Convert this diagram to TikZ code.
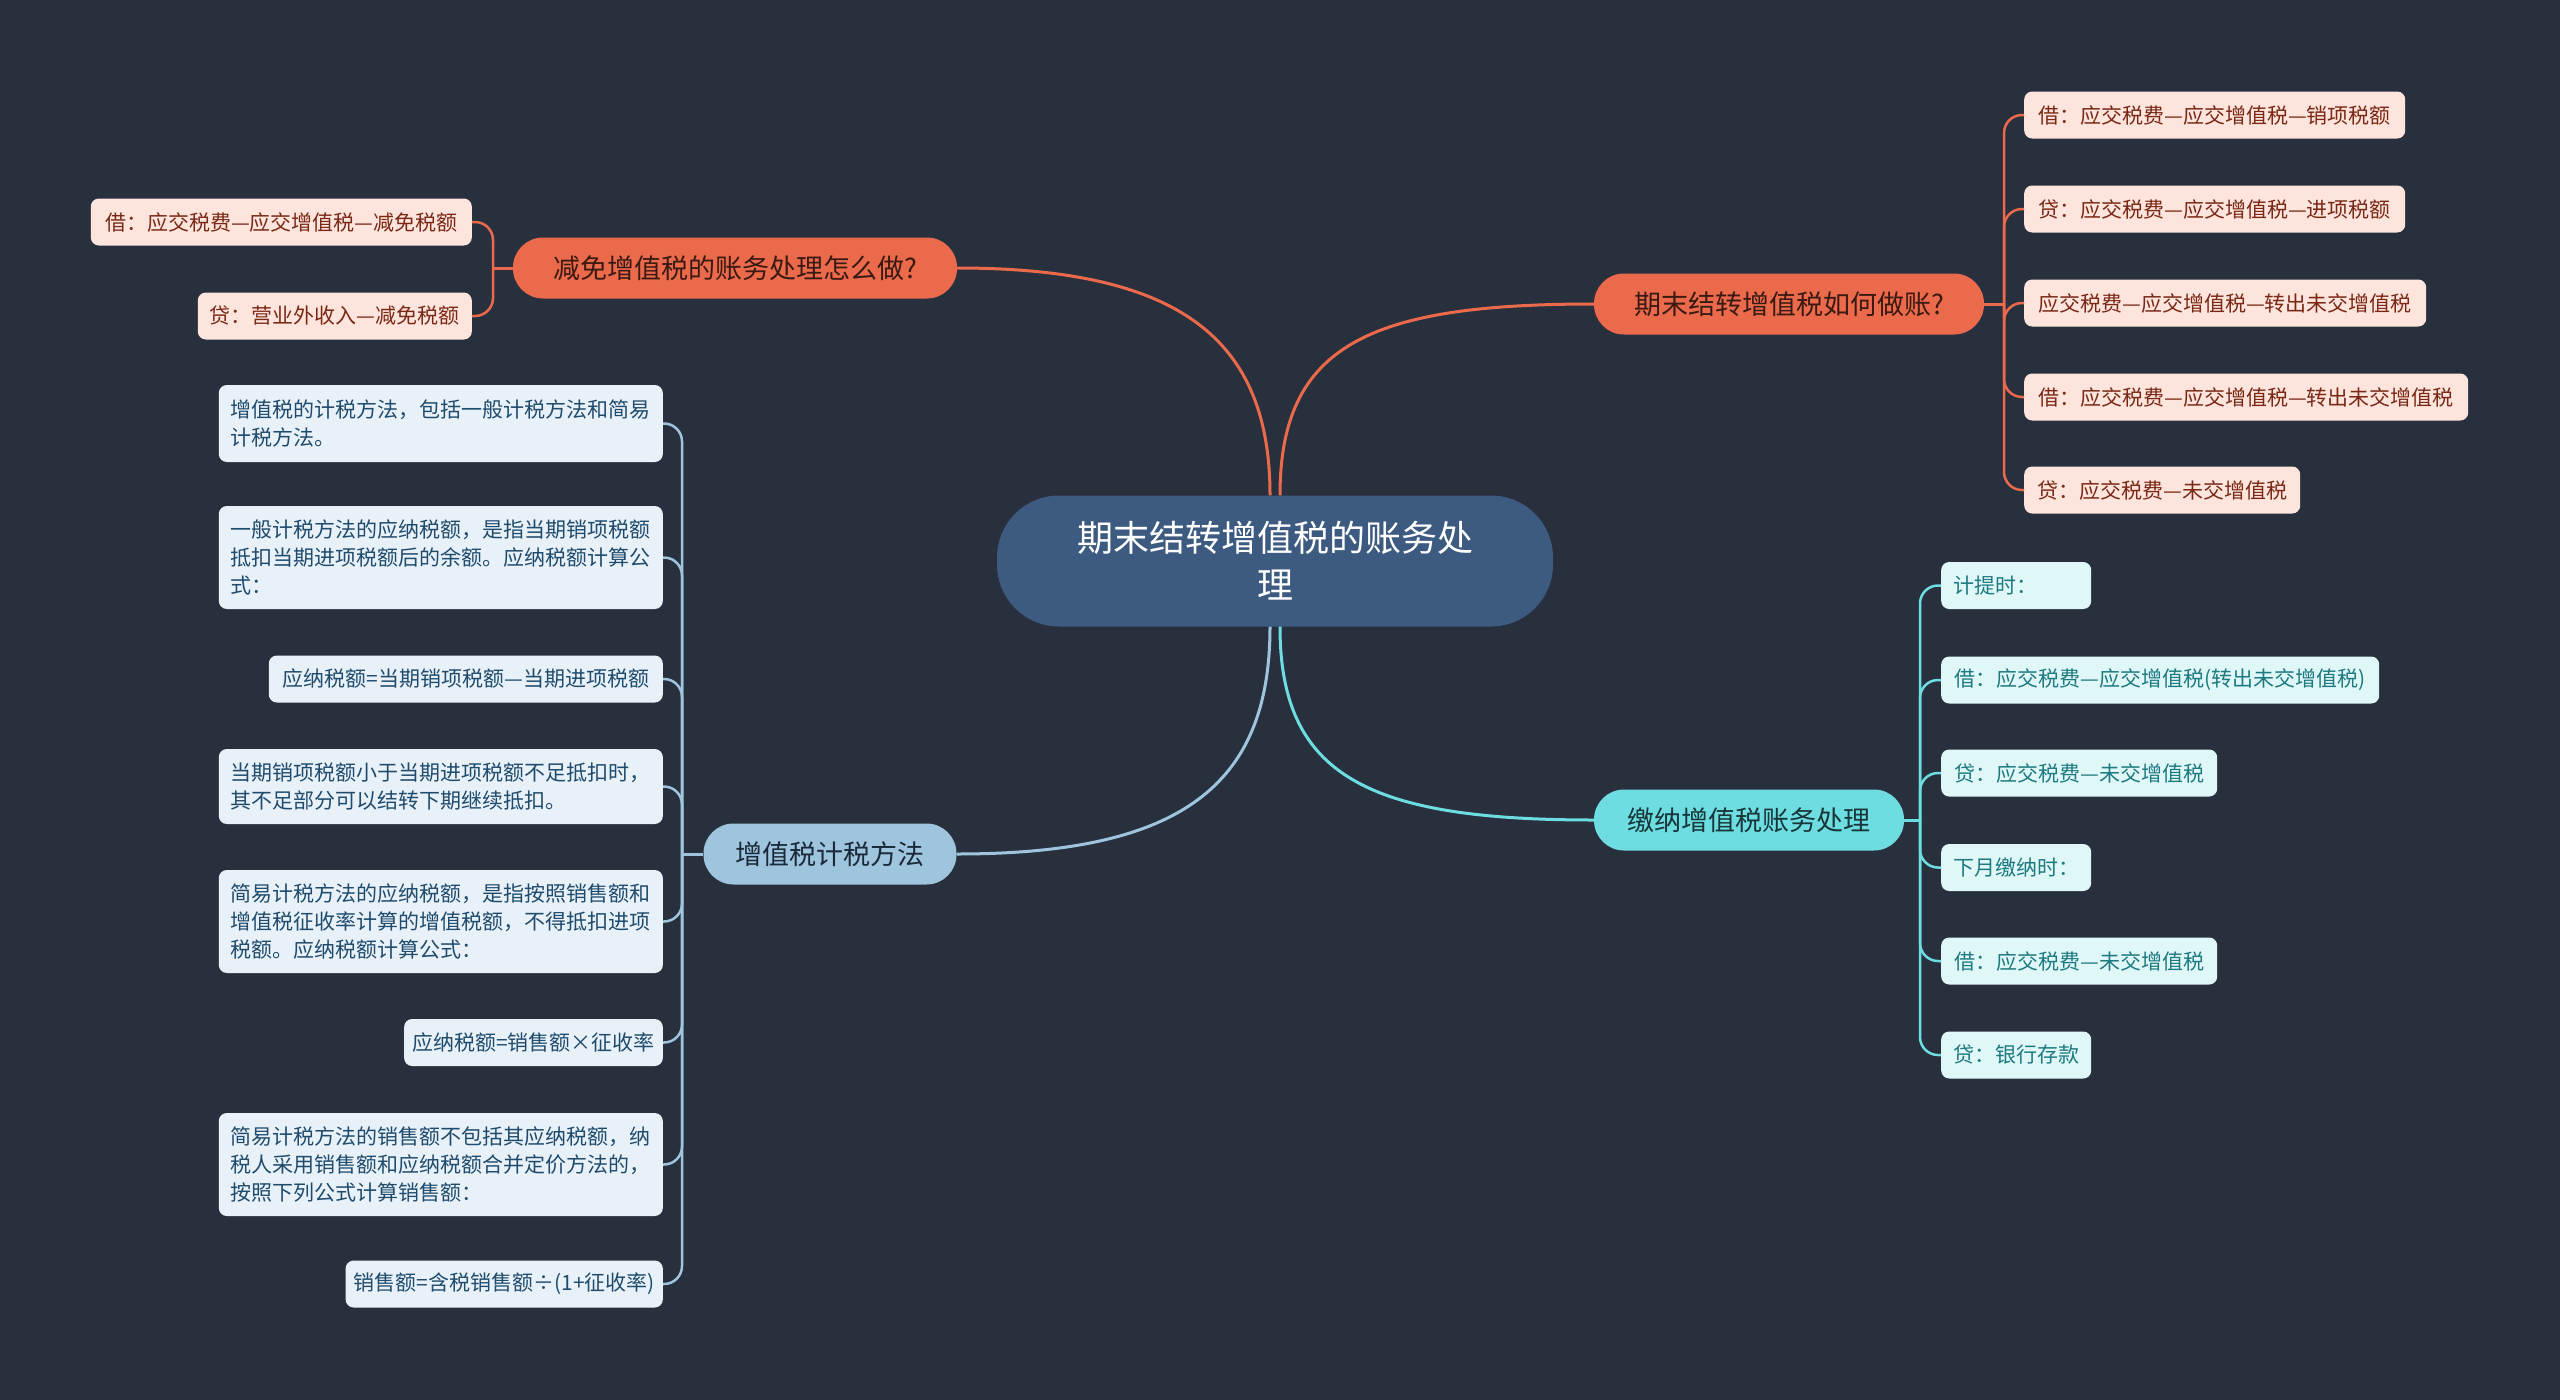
\documentclass[tikz,border=0pt]{standalone}
\usepackage{fontspec}
\setmainfont{Noto Sans CJK SC}
\definecolor{bg}{HTML}{28303E}
\definecolor{rootfill}{HTML}{3D5A80}
\definecolor{ofill}{HTML}{EB6A4B}
\definecolor{otext}{HTML}{3A1A12}
\definecolor{oleaf}{HTML}{FDE5DD}
\definecolor{oleaftext}{HTML}{7A2815}
\definecolor{bfill}{HTML}{9EC4DE}
\definecolor{btext}{HTML}{1B2A3A}
\definecolor{bleaf}{HTML}{E8F1F8}
\definecolor{bleaftext}{HTML}{1F4B6D}
\definecolor{cfill}{HTML}{6DDDE2}
\definecolor{ctext}{HTML}{163638}
\definecolor{cleaf}{HTML}{E0F7F8}
\definecolor{cleaftext}{HTML}{1C7A80}
\tikzset{
  rootbox/.style={fill=rootfill, text=white, rounded corners=62pt, inner sep=0pt,
    minimum width=556pt, minimum height=131pt, align=center,
    font=\fontsize{36pt}{47pt}\selectfont},
  branchbox/.style={rounded corners=30pt, inner sep=0pt, minimum height=61pt,
    font=\fontsize{27pt}{32pt}\selectfont},
  leafbox/.style={rounded corners=8pt, inner xsep=11pt, inner ysep=0pt, minimum height=47pt,
    font=\fontsize{21pt}{28pt}\selectfont},
  oleafbox/.style={leafbox, fill=oleaf, text=oleaftext},
  bleafbox/.style={leafbox, fill=bleaf, text=bleaftext},
  bparabox/.style={bleafbox, inner xsep=12pt, text width=420pt, align=left},
  cleafbox/.style={leafbox, fill=cleaf, text=cleaftext},
  oline/.style={draw=ofill, line width=3pt},
  bline/.style={draw=bfill, line width=3pt},
  cline/.style={draw=cfill, line width=3pt},
  olinks/.style={draw=ofill, line width=2.5pt, rounded corners=18pt},
  blinks/.style={draw=bfill, line width=2.5pt, rounded corners=18pt},
  clinks/.style={draw=cfill, line width=2.5pt, rounded corners=18pt},
}
\begin{document}
\begin{tikzpicture}[x=1pt,y=1pt]
\fill[bg] (0,0) rectangle (2560,-1400);
\useasboundingbox (0,0) rectangle (2560,-1400);

% root and branches
\node[rootbox] (root) at (1275,-561) {期末结转增值税的账务处\\理};
\node[branchbox, fill=ofill, text=otext, minimum width=444pt] (bL) at (735,-268) {减免增值税的账务处理怎么做?};
\node[branchbox, fill=ofill, text=otext, minimum width=390pt] (bR) at (1789,-304) {期末结转增值税如何做账?};
\node[branchbox, fill=bfill, text=btext, minimum width=253pt] (bB) at (830,-854) {增值税计税方法};
\node[branchbox, fill=cfill, text=ctext, minimum width=310pt] (bC) at (1749,-820) {缴纳增值税账务处理};

\draw[oline] ([xshift=-5pt]root.north) .. controls +(0,156) and +(223,0) .. (bL.east);
\draw[oline] ([xshift=5pt]root.north) .. controls +(0,150) and +(-225,0) .. (bR.west);
\draw[bline] ([xshift=-5pt]root.south) .. controls +(0,-160) and +(223,0) .. (bB.east);
\draw[cline] ([xshift=5pt]root.south) .. controls +(0,-150) and +(-225,0) .. (bC.west);

% orange left leaves
\node[oleafbox, anchor=east, minimum width=381pt] (oL1) at (472,-222) {借：应交税费—应交增值税—减免税额};
\node[oleafbox, anchor=east, minimum width=274pt] (oL2) at (472,-316) {贷：营业外收入—减免税额};
\coordinate (tL) at (493,-268);
\draw[oline] (bL.west) -- (tL);
\foreach \n in {oL1,oL2} \draw[olinks] (tL) |- (\n.east);

% orange right leaves
\node[oleafbox, anchor=west, minimum width=381pt] (oR1) at (2024,-115) {借：应交税费—应交增值税—销项税额};
\node[oleafbox, anchor=west, minimum width=381pt] (oR2) at (2024,-209) {贷：应交税费—应交增值税—进项税额};
\node[oleafbox, anchor=west, minimum width=402pt] (oR3) at (2024,-303) {应交税费—应交增值税—转出未交增值税};
\node[oleafbox, anchor=west, minimum width=444pt] (oR4) at (2024,-397) {借：应交税费—应交增值税—转出未交增值税};
\node[oleafbox, anchor=west, minimum width=276pt] (oR5) at (2024,-490) {贷：应交税费—未交增值税};
\coordinate (tR) at (2004,-304);
\draw[oline] (bR.east) -- (tR);
\foreach \n in {oR1,oR2,oR3,oR4,oR5} \draw[olinks] (tR) |- (\n.west);

% cyan leaves
\node[cleafbox, anchor=west, minimum width=150pt] (c1) at (1941,-585.5) {计提时：\hspace*{42pt}};
\node[cleafbox, anchor=west, minimum width=438pt] (c2) at (1941,-680) {借：应交税费—应交增值税(转出未交增值税)};
\node[cleafbox, anchor=west, minimum width=276pt] (c3) at (1941,-773) {贷：应交税费—未交增值税};
\node[cleafbox, anchor=west, minimum width=150pt] (c4) at (1941,-867.5) {下月缴纳时：};
\node[cleafbox, anchor=west, minimum width=276pt] (c5) at (1941,-961) {借：应交税费—未交增值税};
\node[cleafbox, anchor=west, minimum width=150pt] (c6) at (1941,-1055) {贷：银行存款};
\coordinate (tC) at (1920,-820);
\draw[cline] (bC.east) -- (tC);
\foreach \n in {c1,c2,c3,c4,c5,c6} \draw[clinks] (tC) |- (\n.west);

% blue leaves
\node[bparabox, anchor=east, minimum height=77pt] (b1) at (663,-423.5) {增值税的计税方法，包括一般计税方法和简易\\计税方法。};
\node[bparabox, anchor=east, minimum height=103pt] (b2) at (663,-557.5) {一般计税方法的应纳税额，是指当期销项税额\\抵扣当期进项税额后的余额。应纳税额计算公\\式：};
\node[bleafbox, anchor=east, minimum width=394pt] (b3) at (663,-679) {应纳税额=当期销项税额—当期进项税额};
\node[bparabox, anchor=east, minimum height=75pt] (b4) at (663,-786.5) {当期销项税额小于当期进项税额不足抵扣时，\\其不足部分可以结转下期继续抵扣。};
\node[bparabox, anchor=east, minimum height=103pt] (b5) at (663,-921.5) {简易计税方法的应纳税额，是指按照销售额和\\增值税征收率计算的增值税额，不得抵扣进项\\税额。应纳税额计算公式：};
\node[bleafbox, anchor=east, inner xsep=8pt, minimum width=258pt] (b6) at (663,-1042.5) {应纳税额=销售额×征收率};
\node[bparabox, anchor=east, minimum height=103pt] (b7) at (663,-1164.5) {简易计税方法的销售额不包括其应纳税额，纳\\税人采用销售额和应纳税额合并定价方法的，\\按照下列公式计算销售额：};
\node[bleafbox, anchor=east, inner xsep=8pt, minimum width=315pt] (b8) at (663,-1284) {销售额=含税销售额÷(1+征收率)};
\coordinate (tB) at (682,-854);
\draw[bline] (bB.west) -- (tB);
\foreach \n in {b1,b2,b3,b4,b5,b6,b7,b8} \draw[blinks] (tB) |- (\n.east);
\end{tikzpicture}
\end{document}
